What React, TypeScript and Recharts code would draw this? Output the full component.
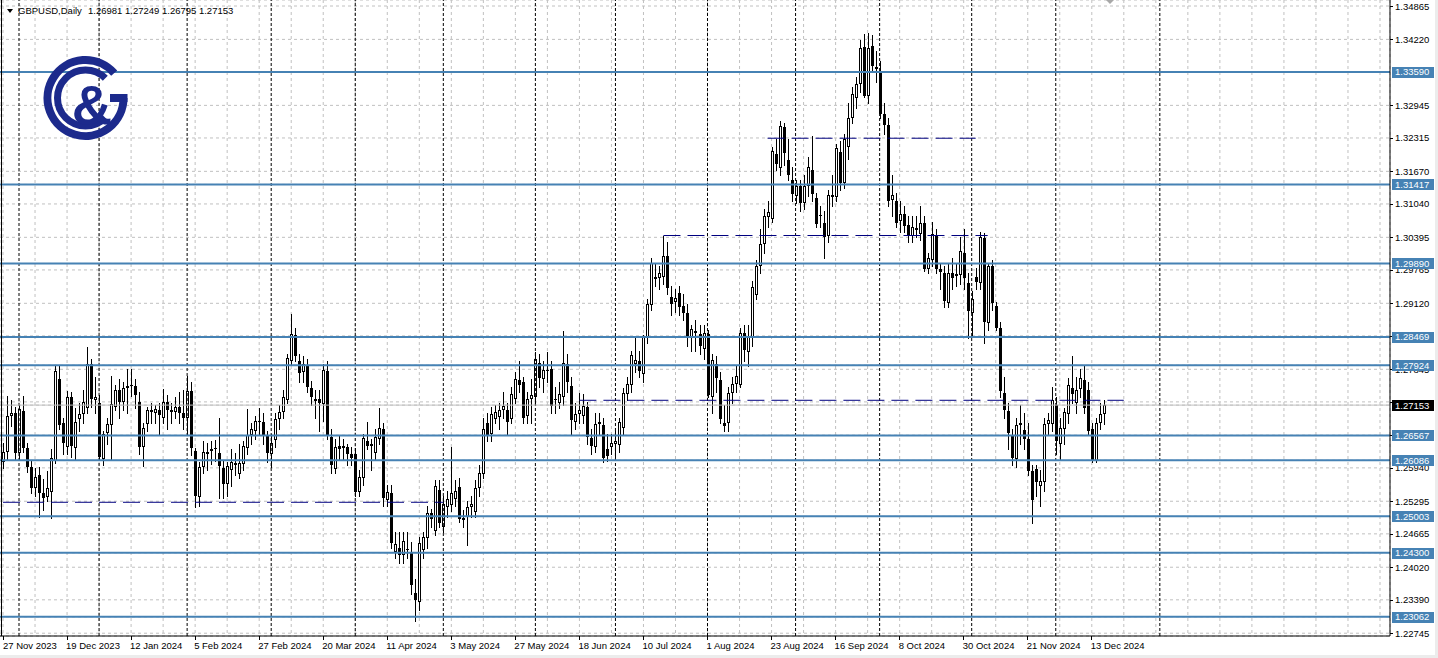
import { ComposedChart, Bar, XAxis, YAxis, CartesianGrid, ReferenceLine } from "recharts";

const FONT = '"Liberation Sans", Arial, sans-serif';
const NAVY = "#1c2a8c";

// daily GBPUSD candles, one list per month: [open, high, low, close]
const nov23 = [
  [1.2606, 1.2642, 1.2593, 1.2625], [1.2624, 1.2733, 1.2612, 1.2694], [1.2694, 1.2725, 1.2675, 1.27],
  [1.27, 1.2712, 1.261, 1.2622],
];
const dec23 = [
  [1.2622, 1.2716, 1.261, 1.2707], [1.2703, 1.2733, 1.2625, 1.2632], [1.2632, 1.2643, 1.2586, 1.2596],
  [1.2596, 1.261, 1.2545, 1.2556], [1.2556, 1.2594, 1.254, 1.2577], [1.258, 1.2596, 1.25, 1.2545],
  [1.2546, 1.2572, 1.2512, 1.2535], [1.2537, 1.2588, 1.253, 1.2555], [1.2548, 1.263, 1.2497, 1.2614],
  [1.2608, 1.2793, 1.2604, 1.2782], [1.2765, 1.2792, 1.267, 1.2676], [1.268, 1.269, 1.262, 1.2643],
  [1.2634, 1.2742, 1.262, 1.273], [1.273, 1.274, 1.2615, 1.2637], [1.2632, 1.271, 1.2612, 1.2683],
  [1.2688, 1.272, 1.2665, 1.2698], [1.2698, 1.2745, 1.268, 1.2722], [1.2709, 1.2827, 1.27, 1.2795],
  [1.2795, 1.2804, 1.2712, 1.2728], [1.2725, 1.277, 1.27, 1.2731],
];
const jan24 = [
  [1.272, 1.2735, 1.261, 1.2615], [1.2612, 1.2665, 1.26, 1.266], [1.2661, 1.269, 1.264, 1.2679],
  [1.2677, 1.2772, 1.2611, 1.2718], [1.2711, 1.2754, 1.2705, 1.2745], [1.2745, 1.2765, 1.269, 1.2722],
  [1.2722, 1.276, 1.2705, 1.2748], [1.2748, 1.2785, 1.27, 1.2752], [1.2752, 1.2785, 1.2733, 1.2755],
  [1.2752, 1.2765, 1.271, 1.2734], [1.2722, 1.274, 1.262, 1.2635], [1.2635, 1.268, 1.2597, 1.2672],
  [1.2679, 1.2712, 1.2665, 1.2705], [1.2706, 1.272, 1.268, 1.2702], [1.27, 1.2716, 1.268, 1.2708],
  [1.2705, 1.272, 1.266, 1.2696], [1.269, 1.2746, 1.268, 1.2722], [1.2722, 1.2735, 1.267, 1.2706],
  [1.2706, 1.272, 1.268, 1.2702], [1.2702, 1.273, 1.269, 1.2712], [1.2712, 1.274, 1.268, 1.27],
  [1.27, 1.2744, 1.267, 1.269],
];
const feb24 = [
  [1.269, 1.2772, 1.266, 1.2742], [1.2742, 1.276, 1.2619, 1.2632], [1.2627, 1.2633, 1.2518, 1.254],
  [1.2538, 1.2605, 1.252, 1.2595], [1.2596, 1.2645, 1.2585, 1.2624], [1.262, 1.2643, 1.259, 1.2625],
  [1.2626, 1.2645, 1.2602, 1.263], [1.263, 1.2648, 1.2608, 1.2633], [1.2622, 1.269, 1.2535, 1.2597],
  [1.2593, 1.261, 1.2536, 1.2563], [1.2563, 1.2605, 1.254, 1.2598], [1.259, 1.263, 1.2558, 1.2605],
  [1.2604, 1.2623, 1.258, 1.26], [1.2582, 1.264, 1.2575, 1.2603], [1.2602, 1.2645, 1.259, 1.2636],
  [1.2632, 1.2707, 1.262, 1.2657], [1.2657, 1.268, 1.264, 1.267], [1.2666, 1.2695, 1.265, 1.2684],
  [1.2684, 1.2709, 1.266, 1.2685], [1.2682, 1.27, 1.264, 1.2657], [1.2657, 1.2665, 1.2606, 1.2622],
];
const mar24 = [
  [1.262, 1.266, 1.2595, 1.2643], [1.2647, 1.27, 1.2635, 1.2689], [1.2689, 1.2715, 1.267, 1.2701],
  [1.2701, 1.2745, 1.269, 1.273], [1.2726, 1.2815, 1.272, 1.2807], [1.2801, 1.2892, 1.2795, 1.2852],
  [1.285, 1.2864, 1.28, 1.2811], [1.2801, 1.2815, 1.276, 1.2778], [1.278, 1.281, 1.276, 1.2795],
  [1.2792, 1.2805, 1.274, 1.275], [1.2748, 1.2762, 1.2715, 1.273], [1.2724, 1.2745, 1.269, 1.2727],
  [1.2728, 1.2745, 1.2666, 1.2719], [1.2718, 1.2795, 1.2685, 1.2784], [1.2782, 1.2801, 1.265, 1.2657],
  [1.2653, 1.267, 1.2585, 1.2599], [1.2591, 1.265, 1.2585, 1.2634], [1.2636, 1.2658, 1.261, 1.263],
  [1.2632, 1.265, 1.2612, 1.2637], [1.2634, 1.264, 1.26, 1.262], [1.262, 1.2635, 1.26, 1.2614],
];
const apr24 = [
  [1.262, 1.2633, 1.254, 1.2548], [1.2547, 1.259, 1.254, 1.2576], [1.2574, 1.266, 1.256, 1.2651],
  [1.2645, 1.2682, 1.263, 1.2637], [1.264, 1.265, 1.259, 1.2636], [1.2622, 1.267, 1.261, 1.2653],
  [1.2649, 1.2709, 1.264, 1.2672], [1.267, 1.268, 1.252, 1.2535], [1.2531, 1.256, 1.252, 1.2548],
  [1.2545, 1.256, 1.244, 1.2448], [1.2432, 1.247, 1.242, 1.2446], [1.244, 1.247, 1.241, 1.2425],
  [1.2425, 1.247, 1.241, 1.2452], [1.2438, 1.247, 1.242, 1.2435], [1.2431, 1.245, 1.235, 1.2367],
  [1.2352, 1.238, 1.2299, 1.2338], [1.2334, 1.246, 1.232, 1.2448], [1.2435, 1.247, 1.242, 1.246],
  [1.2458, 1.252, 1.244, 1.2507], [1.2506, 1.2515, 1.248, 1.2496], [1.2472, 1.257, 1.2465, 1.2559],
  [1.2552, 1.257, 1.248, 1.2488],
];
const may24 = [
  [1.2479, 1.254, 1.247, 1.2524], [1.2518, 1.255, 1.25, 1.2533], [1.2522, 1.2634, 1.251, 1.2545],
  [1.2533, 1.257, 1.252, 1.2549], [1.2557, 1.2575, 1.249, 1.2495], [1.2497, 1.2512, 1.248, 1.2494],
  [1.2499, 1.253, 1.2444, 1.2518], [1.2518, 1.254, 1.25, 1.2525], [1.2508, 1.257, 1.25, 1.2555],
  [1.2555, 1.26, 1.254, 1.2584], [1.2583, 1.269, 1.2575, 1.267], [1.268, 1.27, 1.2645, 1.2657],
  [1.266, 1.2712, 1.2645, 1.2699], [1.2689, 1.2715, 1.268, 1.2701], [1.2692, 1.272, 1.267, 1.2705],
  [1.2706, 1.274, 1.269, 1.2714], [1.2706, 1.272, 1.266, 1.2682], [1.2689, 1.275, 1.268, 1.2737],
  [1.2728, 1.278, 1.272, 1.2766], [1.2763, 1.28, 1.274, 1.2755], [1.2759, 1.277, 1.268, 1.2691],
  [1.2695, 1.274, 1.268, 1.2728], [1.2728, 1.2765, 1.268, 1.2734],
];
const jun24 = [
  [1.273, 1.2817, 1.2715, 1.2805], [1.2797, 1.2815, 1.275, 1.2768], [1.2765, 1.28, 1.274, 1.2784],
  [1.2784, 1.2818, 1.276, 1.2781], [1.2786, 1.28, 1.27, 1.2714], [1.2727, 1.275, 1.27, 1.2725],
  [1.272, 1.276, 1.271, 1.2736], [1.273, 1.2859, 1.2715, 1.2796], [1.2794, 1.2815, 1.274, 1.2759],
  [1.2753, 1.277, 1.266, 1.2686], [1.2682, 1.272, 1.267, 1.2699], [1.2699, 1.2738, 1.268, 1.2705],
  [1.2695, 1.2737, 1.268, 1.2714], [1.2712, 1.2722, 1.264, 1.2653], [1.2651, 1.267, 1.262, 1.2636],
  [1.2634, 1.27, 1.2625, 1.2678], [1.2678, 1.27, 1.266, 1.2682], [1.2676, 1.269, 1.2605, 1.2614],
  [1.263, 1.266, 1.2608, 1.2616], [1.2634, 1.266, 1.262, 1.2643],
];
const jul24 = [
  [1.264, 1.2665, 1.2615, 1.2645], [1.2638, 1.269, 1.2625, 1.2682], [1.2672, 1.2748, 1.266, 1.2738],
  [1.2736, 1.277, 1.2725, 1.2757], [1.2755, 1.282, 1.274, 1.2812], [1.2794, 1.2845, 1.278, 1.2803],
  [1.2801, 1.282, 1.277, 1.2782], [1.2776, 1.285, 1.276, 1.2846], [1.2846, 1.292, 1.2835, 1.2911],
  [1.2908, 1.3, 1.29, 1.2989], [1.2962, 1.299, 1.2945, 1.2958], [1.296, 1.2985, 1.294, 1.297],
  [1.2962, 1.3043, 1.295, 1.3003], [1.3003, 1.303, 1.293, 1.2941], [1.2925, 1.2945, 1.289, 1.291],
  [1.2914, 1.294, 1.2895, 1.2923], [1.2931, 1.2945, 1.289, 1.2904], [1.2906, 1.293, 1.288, 1.2894],
  [1.2894, 1.291, 1.283, 1.2846], [1.2844, 1.287, 1.282, 1.2863], [1.2858, 1.288, 1.282, 1.2855],
  [1.2853, 1.287, 1.2815, 1.283], [1.2824, 1.287, 1.2805, 1.2855],
];
const aug24 = [
  [1.2853, 1.286, 1.273, 1.2734], [1.273, 1.2815, 1.27, 1.2803], [1.2795, 1.281, 1.274, 1.2768],
  [1.2763, 1.278, 1.268, 1.2689], [1.2681, 1.2715, 1.2666, 1.2674], [1.2681, 1.275, 1.2665, 1.2739],
  [1.2738, 1.277, 1.272, 1.2757], [1.2757, 1.279, 1.274, 1.2772], [1.2755, 1.2865, 1.275, 1.2854],
  [1.2854, 1.287, 1.28, 1.2821], [1.2817, 1.287, 1.279, 1.2846], [1.2844, 1.2955, 1.283, 1.2943],
  [1.2929, 1.2995, 1.292, 1.2985], [1.2985, 1.3055, 1.297, 1.3027], [1.3027, 1.3095, 1.301, 1.3081],
  [1.3079, 1.311, 1.306, 1.3089], [1.3075, 1.3215, 1.307, 1.3207], [1.3201, 1.323, 1.317, 1.3182],
  [1.3174, 1.3265, 1.316, 1.3255], [1.3253, 1.326, 1.318, 1.3203], [1.3189, 1.3229, 1.315, 1.316],
  [1.3151, 1.3175, 1.311, 1.3124],
];
const sep24 = [
  [1.312, 1.315, 1.3105, 1.3139], [1.3139, 1.315, 1.309, 1.3106], [1.3106, 1.316, 1.3095, 1.3139],
  [1.3139, 1.3195, 1.312, 1.3176], [1.317, 1.3236, 1.311, 1.3124], [1.3116, 1.3125, 1.306, 1.3066],
  [1.3082, 1.31, 1.306, 1.308], [1.3068, 1.309, 1.3, 1.3041], [1.3042, 1.313, 1.303, 1.3122],
  [1.3118, 1.316, 1.31, 1.3122], [1.3118, 1.322, 1.311, 1.3213], [1.3205, 1.3225, 1.313, 1.3145],
  [1.3145, 1.324, 1.3135, 1.323], [1.3215, 1.33, 1.319, 1.3271], [1.3271, 1.333, 1.326, 1.3317],
  [1.3309, 1.335, 1.329, 1.3336], [1.3336, 1.342, 1.332, 1.3406], [1.3407, 1.3432, 1.331, 1.3313],
  [1.3313, 1.3434, 1.33, 1.3406], [1.3409, 1.343, 1.336, 1.3371], [1.3368, 1.34, 1.334, 1.3365],
];
const oct24 = [
  [1.3357, 1.338, 1.327, 1.3278], [1.3278, 1.33, 1.324, 1.3257], [1.3257, 1.327, 1.31, 1.311],
  [1.3112, 1.316, 1.308, 1.3122], [1.311, 1.3125, 1.306, 1.3068], [1.3072, 1.311, 1.305, 1.3085],
  [1.3085, 1.31, 1.305, 1.3062], [1.3064, 1.308, 1.303, 1.3043], [1.3043, 1.308, 1.303, 1.306],
  [1.3058, 1.308, 1.304, 1.3054], [1.3046, 1.31, 1.3035, 1.3068], [1.3068, 1.308, 1.2975, 1.2979],
  [1.2979, 1.301, 1.297, 1.3], [1.2996, 1.307, 1.2985, 1.3046], [1.3043, 1.3055, 1.297, 1.2979],
  [1.2978, 1.299, 1.294, 1.2973], [1.2971, 1.2985, 1.2905, 1.2917], [1.2913, 1.299, 1.2905, 1.2971],
  [1.2971, 1.3, 1.294, 1.296], [1.2964, 1.299, 1.2945, 1.2968], [1.2967, 1.304, 1.295, 1.3014],
  [1.301, 1.3055, 1.294, 1.296], [1.2952, 1.297, 1.2844, 1.2898],
];
const nov24 = [
  [1.2894, 1.2935, 1.285, 1.2921], [1.2962, 1.298, 1.294, 1.2954], [1.2952, 1.305, 1.294, 1.3041],
  [1.3039, 1.3047, 1.2835, 1.2875], [1.2873, 1.299, 1.286, 1.2985], [1.2985, 1.2995, 1.29, 1.2913],
  [1.2906, 1.2915, 1.286, 1.2865], [1.2865, 1.2875, 1.273, 1.2743], [1.2738, 1.277, 1.269, 1.2705],
  [1.2703, 1.272, 1.263, 1.2662], [1.2657, 1.267, 1.26, 1.2614], [1.2612, 1.269, 1.2595, 1.2676],
  [1.2676, 1.2715, 1.264, 1.268], [1.2668, 1.27, 1.263, 1.2649], [1.2649, 1.268, 1.258, 1.2587],
  [1.2587, 1.26, 1.2487, 1.2531], [1.2591, 1.26, 1.254, 1.2566], [1.2558, 1.259, 1.252, 1.2568],
  [1.2566, 1.269, 1.255, 1.2678], [1.2678, 1.27, 1.266, 1.2686], [1.2678, 1.275, 1.2665, 1.2726],
];
const dec24 = [
  [1.2716, 1.273, 1.262, 1.2645], [1.2641, 1.269, 1.261, 1.2672], [1.267, 1.271, 1.264, 1.2701],
  [1.2699, 1.2768, 1.268, 1.2755], [1.2749, 1.281, 1.272, 1.2736], [1.272, 1.277, 1.27, 1.2745],
  [1.2747, 1.2785, 1.273, 1.2767], [1.2763, 1.279, 1.27, 1.2709], [1.2745, 1.276, 1.266, 1.2666],
  [1.267, 1.268, 1.2605, 1.261], [1.2608, 1.269, 1.2605, 1.268], [1.268, 1.272, 1.267, 1.2698],
  [1.26981, 1.27249, 1.26795, 1.27153],
];

const months = [nov23, dec23, jan24, feb24, mar24, apr24, may24, jun24, jul24, aug24, sep24, oct24, nov24, dec24];

// one label every 16 bars, starting at bar 0
const dateLabels = [
  "27 Nov 2023", "19 Dec 2023", "12 Jan 2024", "5 Feb 2024", "27 Feb 2024", "20 Mar 2024",
  "11 Apr 2024", "3 May 2024", "27 May 2024", "18 Jun 2024", "10 Jul 2024", "1 Aug 2024",
  "23 Aug 2024", "16 Sep 2024", "8 Oct 2024", "30 Oct 2024", "21 Nov 2024", "13 Dec 2024",
];

const gridPrices = [
  1.34865, 1.3422, 1.3359, 1.32945, 1.32315, 1.3167, 1.3104, 1.30395, 1.29765, 1.2912,
  1.2849, 1.27845, 1.27215, 1.2657, 1.2594, 1.25295, 1.24665, 1.2402, 1.2339, 1.22745,
];
const levels = [1.3359, 1.31417, 1.2989, 1.28469, 1.27924, 1.26567, 1.26086, 1.25003, 1.243, 1.23062];
const lastPrice = 1.27153;
const dashedPrices = [1.3231, 1.3043, 1.27246, 1.25275];
const dashedFrom = [191, 165, 144, 0];
const dashedTo = [243, 246, 280, 110];

const SLOTS = 347; // bars plus the empty shift on the right
const Y_MIN = 1.22691;
const Y_MAX = 1.34981;
const FS = 9.5;

const candles = months.flat();
const data = Array.from({ length: SLOTS }, (_, i) => {
  const c = candles[i];
  return c ? { i, open: c[0], high: c[1], low: c[2], close: c[3] } : { i };
});

const separators: number[] = [];
months.reduce((start, m, k) => {
  if (k > 0) separators.push(start);
  return start + m.length;
}, 0);
separators.push(289);

const gridIdx = Array.from({ length: 44 }, (_, k) => k * 8);
const boxed = [...levels, lastPrice];

const Candle = (props: any) => {
  const { x, y, width, height, payload } = props;
  if (payload == null || payload.high == null || !isFinite(y) || !isFinite(height)) return <g />;
  const { open, high, low, close } = payload;
  const top = Math.min(y, y + height);
  const bottom = Math.max(y, y + height);
  const span = high - low || 1e-9;
  const py = (v: number) => Math.round(top + ((high - v) / span) * (bottom - top));
  const c = Math.floor(x + width / 2);
  const yo = py(open);
  const yc = py(close);
  const bull = close >= open;
  const bt = Math.min(yo, yc);
  const bb = Math.max(yo, yc);
  return (
    <g shapeRendering="crispEdges">
      <line x1={c + 0.5} x2={c + 0.5} y1={py(high)} y2={py(low) + 1} stroke="#000" />
      {bull ? (
        bb - bt >= 2 ? (
          <rect x={c - 0.5} y={bt + 0.5} width={2} height={bb - bt - 1} fill="#fff" stroke="#000" />
        ) : (
          <rect x={c - 1} y={bt} width={3} height={1} fill="#000" />
        )
      ) : (
        <rect x={c - 1} y={bt} width={3} height={Math.max(1, bb - bt)} fill="#000" />
      )}
    </g>
  );
};

const PriceTick = (props: any) => {
  const { x, y, payload } = props;
  const v = payload.value as number;
  const label = v.toFixed(5);
  const isLast = Math.abs(v - lastPrice) < 1e-7;
  const isLevel = levels.some((l) => Math.abs(l - v) < 1e-7);
  if (isLast || isLevel) {
    return (
      <g>
        <rect x={x + 2} y={Math.round(y) - 5} width={42} height={11} fill={isLast ? "#000" : "#4682b4"} />
        <text x={x + 5} y={y + 3.5} fill="#fff" fontSize={FS} fontFamily={FONT}>{label}</text>
      </g>
    );
  }
  // grid labels that sit right under a price box are covered by it
  const covered = boxed.some((b) => Math.abs(b - v) < 0.0007);
  return (
    <g>
      <line x1={x} x2={x + 3} y1={Math.round(y) + 0.5} y2={Math.round(y) + 0.5} stroke="#000" />
      {!covered && (
        <text x={x + 5} y={Math.max(y + 3.5, 10)} fill="#000" fontSize={FS} fontFamily={FONT}>{label}</text>
      )}
    </g>
  );
};

const DateTick = (props: any) => {
  const { x, y, payload } = props;
  const i = payload.value as number;
  if (i % 16 !== 0 || i / 16 >= dateLabels.length) return <g />;
  return (
    <g>
      <line x1={Math.floor(x) + 0.5} x2={Math.floor(x) + 0.5} y1={y} y2={y + 4} stroke="#000" />
      <text x={Math.max(x - 1, 3)} y={y + 13} fill="#000" fontSize={FS} fontFamily={FONT} textAnchor="start">
        {dateLabels[i / 16]}
      </text>
    </g>
  );
};

const Overlay = () => (
  <svg width={1438} height={658} style={{ position: "absolute", left: 0, top: 0, pointerEvents: "none" }}>
    <line x1={1.5} x2={1.5} y1={0} y2={636} stroke="#000" />
    <polygon points="7,9 13,9 10,13" fill="#000" />
    <text x={18} y={14} fontSize={FS} fontFamily={FONT} fill="#000">GBPUSD,Daily</text>
    <text x={88} y={14} fontSize={FS} fontFamily={FONT} fill="#000">1.26981 1.27249 1.26795 1.27153</text>
    <polygon points="1106,0 1114,0 1110,4" fill="#a8a8a8" />
    <g fill="none" stroke={NAVY}>
      <path d="M 114.2 73.1 A 38 38 0 1 0 123.5 98" strokeWidth={8} />
      <path d="M 105.3 78.2 A 28 28 0 1 0 105.3 117.8" strokeWidth={7} />
    </g>
    <rect x={110} y={94} width={17.5} height={8} fill={NAVY} />
    <text x={92} y={124} fontSize={56} fontWeight="bold" fontFamily={FONT} fill={NAVY} textAnchor="middle">&amp;</text>
    <rect x={1435} y={0} width={3} height={658} fill="#ececec" />
    <rect x={0} y={655} width={1438} height={3} fill="#ececec" />
  </svg>
);

export default function App() {
  return (
    <div style={{ position: "fixed", left: 0, top: 0, width: 1438, height: 658, background: "#fff", overflow: "visible" }}>
      <ComposedChart
        width={1438}
        height={658}
        data={data}
        margin={{ top: 0, right: 0, bottom: 0, left: 0 }}
        barCategoryGap={0}
        style={{ overflow: "visible" }}
      >
        <CartesianGrid stroke="#c0c0c0" strokeDasharray="3 3" />
        <XAxis
          dataKey="i"
          type="category"
          height={22}
          ticks={gridIdx}
          interval={0}
          padding={{ left: 1, right: 0 }}
          axisLine={{ stroke: "#000" }}
          tickLine={false}
          tickSize={0}
          tickMargin={0}
          tick={<DateTick />}
        />
        <YAxis
          orientation="right"
          type="number"
          domain={[Y_MIN, Y_MAX]}
          allowDataOverflow
          ticks={[...gridPrices, ...levels, lastPrice]}
          interval={0}
          width={48}
          axisLine={{ stroke: "#000" }}
          tickLine={false}
          tickSize={0}
          tickMargin={0}
          tick={<PriceTick />}
        />
        {separators.map((s) => (
          <ReferenceLine key={"sep" + s} x={s} stroke="#000" strokeDasharray="3 2" />
        ))}
        <Bar
          dataKey={(d: any) => (d.high == null ? null : [d.low, d.high])}
          shape={(p: any) => <Candle {...p} />}
          barSize={3}
          isAnimationActive={false}
        />
        <ReferenceLine y={lastPrice} stroke="#c0c0c0" />
        {levels.map((l) => (
          <ReferenceLine key={"lvl" + l} y={l} stroke="#4682b4" strokeWidth={2} />
        ))}
        {dashedPrices.map((p, k) => (
          <ReferenceLine
            key={"dash" + p}
            segment={[{ x: dashedFrom[k], y: p }, { x: dashedTo[k], y: p }]}
            stroke="#000080"
            strokeDasharray="17 7"
          />
        ))}
      </ComposedChart>
      <Overlay />
    </div>
  );
}
